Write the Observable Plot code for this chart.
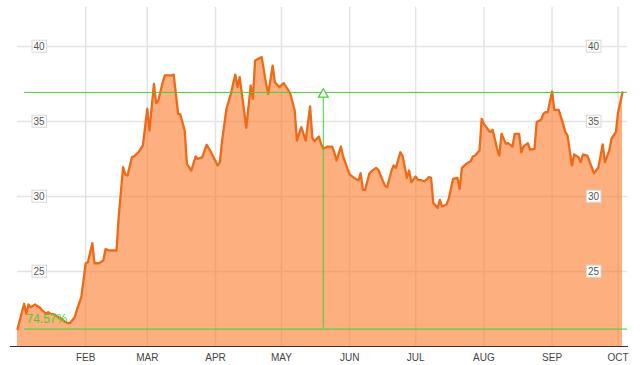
<!DOCTYPE html>
<html>
<head>
<meta charset="utf-8">
<script src="https://cdn.jsdelivr.net/npm/d3@7"></script>
<script src="https://cdn.jsdelivr.net/npm/@observablehq/plot@0.6"></script>
<style>
  html, body { margin: 0; padding: 0; background: #fff; }
  svg { display: block; }
</style>
</head>
<body>
<script>
// ---- data ----
const dates = [
  "2015-01-01","2015-01-04","2015-01-05","2015-01-06","2015-01-07","2015-01-09","2015-01-11","2015-01-12","2015-01-14","2015-01-15",
  "2015-01-16","2015-01-18","2015-01-19","2015-01-21","2015-01-22","2015-01-24","2015-01-25","2015-01-27","2015-01-28","2015-01-30",
  "2015-01-31","2015-02-01","2015-02-02","2015-02-04","2015-02-05","2015-02-07","2015-02-09","2015-02-10","2015-02-12","2015-02-15",
  "2015-02-16","2015-02-18","2015-02-19","2015-02-20","2015-02-22","2015-02-23","2015-02-25","2015-02-27","2015-03-01","2015-03-02",
  "2015-03-04","2015-03-05","2015-03-06","2015-03-08","2015-03-09","2015-03-12","2015-03-13","2015-03-14","2015-03-15","2015-03-16",
  "2015-03-18","2015-03-19","2015-03-21","2015-03-23","2015-03-24","2015-03-26","2015-03-28","2015-03-30","2015-04-02","2015-04-03",
  "2015-04-04","2015-04-06","2015-04-08","2015-04-10","2015-04-11","2015-04-12","2015-04-15","2015-04-17","2015-04-18","2015-04-19",
  "2015-04-22","2015-04-24","2015-04-25","2015-04-27","2015-04-28","2015-04-30","2015-05-02","2015-05-04","2015-05-05","2015-05-07",
  "2015-05-08","2015-05-10","2015-05-12","2015-05-14","2015-05-15","2015-05-16","2015-05-18","2015-05-19","2015-05-20","2015-05-22",
  "2015-05-24","2015-05-25","2015-05-26","2015-05-28","2015-05-29","2015-05-31","2015-06-01","2015-06-03","2015-06-05","2015-06-06",
  "2015-06-07","2015-06-08","2015-06-10","2015-06-11","2015-06-13","2015-06-14","2015-06-16","2015-06-17","2015-06-18","2015-06-20",
  "2015-06-21","2015-06-22","2015-06-24","2015-06-25","2015-06-27","2015-06-28","2015-06-29","2015-07-01","2015-07-02","2015-07-04",
  "2015-07-05","2015-07-07","2015-07-08","2015-07-09","2015-07-11","2015-07-12","2015-07-13","2015-07-15","2015-07-16","2015-07-18",
  "2015-07-20","2015-07-21","2015-07-22","2015-07-24","2015-07-26","2015-07-27","2015-07-28","2015-07-30","2015-07-31","2015-08-01",
  "2015-08-03","2015-08-04","2015-08-05","2015-08-07","2015-08-08","2015-08-09","2015-08-11","2015-08-12","2015-08-14","2015-08-15",
  "2015-08-17","2015-08-18","2015-08-19","2015-08-21","2015-08-22","2015-08-24","2015-08-25","2015-08-27","2015-08-28","2015-08-29",
  "2015-08-30","2015-09-01","2015-09-02","2015-09-04","2015-09-06","2015-09-07","2015-09-08","2015-09-10","2015-09-11","2015-09-13",
  "2015-09-14","2015-09-15","2015-09-17","2015-09-19","2015-09-20","2015-09-22","2015-09-24","2015-09-25","2015-09-27","2015-09-28",
  "2015-09-30","2015-10-01","2015-10-03"
];
const values = [
  21.16,22.85,22.18,22.80,22.62,22.80,22.62,22.45,22.18,22.29,
  22.18,22.13,22.00,21.85,21.69,21.55,21.58,21.95,22.45,23.29,
  24.40,25.55,25.62,26.89,25.55,25.55,25.73,26.49,26.40,26.40,
  28.62,31.95,31.47,31.40,32.62,32.67,32.95,33.40,35.85,34.40,
  37.51,36.22,36.40,37.62,38.07,38.07,38.13,36.85,35.51,35.47,
  34.40,32.18,31.73,32.67,32.51,32.62,33.45,32.95,32.07,32.29,
  33.73,35.85,36.85,38.13,37.29,37.96,34.58,37.40,36.51,39.07,
  39.29,37.51,36.85,38.73,37.62,37.29,37.56,37.11,36.85,35.73,
  33.73,34.62,33.73,36.00,33.91,33.69,34.00,33.51,33.18,33.33,
  33.33,32.95,32.40,33.33,32.67,31.84,31.47,31.24,31.07,31.55,
  30.44,30.44,31.55,31.69,31.91,31.78,31.07,30.73,30.62,31.73,
  32.07,31.91,32.95,32.73,31.24,31.73,30.95,31.33,31.11,31.07,
  31.00,31.29,31.24,29.56,29.24,29.78,29.33,29.47,29.84,31.18,
  31.24,30.51,31.91,32.18,32.35,32.67,32.73,33.07,35.18,34.84,
  34.44,34.29,34.44,33.18,32.73,34.18,33.51,33.56,33.33,34.18,
  34.18,32.95,33.33,33.56,33.13,33.18,34.96,35.11,35.51,35.62,
  35.62,37.00,35.78,35.78,34.84,34.29,34.07,32.07,32.80,32.62,
  32.29,32.80,32.73,31.95,31.55,31.91,33.47,32.29,33.07,33.85,
  34.29,35.62,36.94
];
const yTicks = [25, 30, 35, 40];
const monthTicks = ["2015-02-01","2015-03-01","2015-04-01","2015-05-01","2015-06-01","2015-07-01","2015-08-01","2015-09-01","2015-10-01"];
const monthLabels = ["FEB","MAR","APR","MAY","JUN","JUL","AUG","SEP","OCT"];
const lowLevel = 21.16;
const highLevel = 36.94;
const markerDate = "2015-05-20";
const changeLabel = "74.57%";
const xDomain = ["2015-01-01", "2015-10-03"];
const yDomain = [20, 40];

// ---- build ----
const data = dates.map((d, i) => ({date: new Date(d), value: values[i]}));
const months = monthTicks.map(d => new Date(d));
const labelOf = new Map(months.map((m, i) => [+m, monthLabels[i]]));

const GREEN = "#46cd32";
const chart = Plot.plot({
  width: 640,
  height: 365,
  marginLeft: 17,
  marginRight: 18,
  marginTop: 46,
  marginBottom: 19,
  style: {fontFamily: "Liberation Sans, Arial, sans-serif", background: "#fff"},
  x: {type: "utc", domain: xDomain.map(d => new Date(d)), axis: null},
  y: {domain: yDomain, axis: null},
  marks: [
    Plot.ruleY(yTicks, {stroke: "#e4e4e4", strokeWidth: 1.5, insetRight: -5}),
    Plot.ruleX(months, {stroke: "#e4e4e4", strokeWidth: 1.5, y1: yDomain[0], y2: 42.6}),
    Plot.areaY(data, {x: "date", y1: yDomain[0], y2: "value", fill: "#fc7a2b", fillOpacity: 0.6}),
    Plot.lineY(data, {x: "date", y: "value", stroke: "#ef6a18", strokeWidth: 2.3}),
    Plot.ruleY([highLevel, lowLevel], {stroke: GREEN, strokeWidth: 1, insetLeft: 7, insetRight: -5}),
    Plot.ruleX([{date: new Date(markerDate), y1: lowLevel, y2: highLevel}], {x: "date", y1: "y1", y2: "y2", stroke: GREEN, strokeWidth: 1}),
    Plot.dot([{date: new Date(markerDate), v: highLevel}], {x: "date", y: "v", symbol: "triangle", r: 3.6, stroke: GREEN, fill: "#fff", strokeWidth: 1.2, dy: 2}),
    Plot.text([changeLabel], {y: () => lowLevel, text: d => d, frameAnchor: "left", dx: 9, dy: -10, textAnchor: "start", fill: GREEN, fontSize: 12}),
    Plot.ruleY([yDomain[0]], {stroke: "#333", strokeWidth: 1, insetLeft: -7, insetRight: -6}),
    Plot.text(months, {x: d => d, y: yDomain[0], text: d => labelOf.get(+d), dy: 11, fill: "#444", fontSize: 10}),
    Plot.text(yTicks, {y: d => d, text: d => String(d), frameAnchor: "left", dx: 16, fill: "#555", fontSize: 10}),
    Plot.text(yTicks, {y: d => d, text: d => String(d), frameAnchor: "right", dx: -23.5, fill: "#555", fontSize: 10})
  ]
});
document.body.append(chart);

// white boxes behind the y tick labels (the last two text marks)
const textGroups = chart.querySelectorAll('g[aria-label="text"]');
[textGroups[textGroups.length - 2], textGroups[textGroups.length - 1]].forEach(g => {
  g.querySelectorAll("text").forEach(t => {
    const b = t.getBBox();
    const r = document.createElementNS("http://www.w3.org/2000/svg", "rect");
    r.setAttribute("x", b.x - 1.5);
    r.setAttribute("y", b.y - 0.5);
    r.setAttribute("width", b.width + 3);
    r.setAttribute("height", b.height + 1);
    if (t.getAttribute("transform")) r.setAttribute("transform", t.getAttribute("transform"));
    r.setAttribute("fill", "#fff");
    r.setAttribute("stroke", "#d8d8d8");
    r.setAttribute("stroke-width", 1);
    g.insertBefore(r, t);
  });
});
</script>
</body>
</html>
